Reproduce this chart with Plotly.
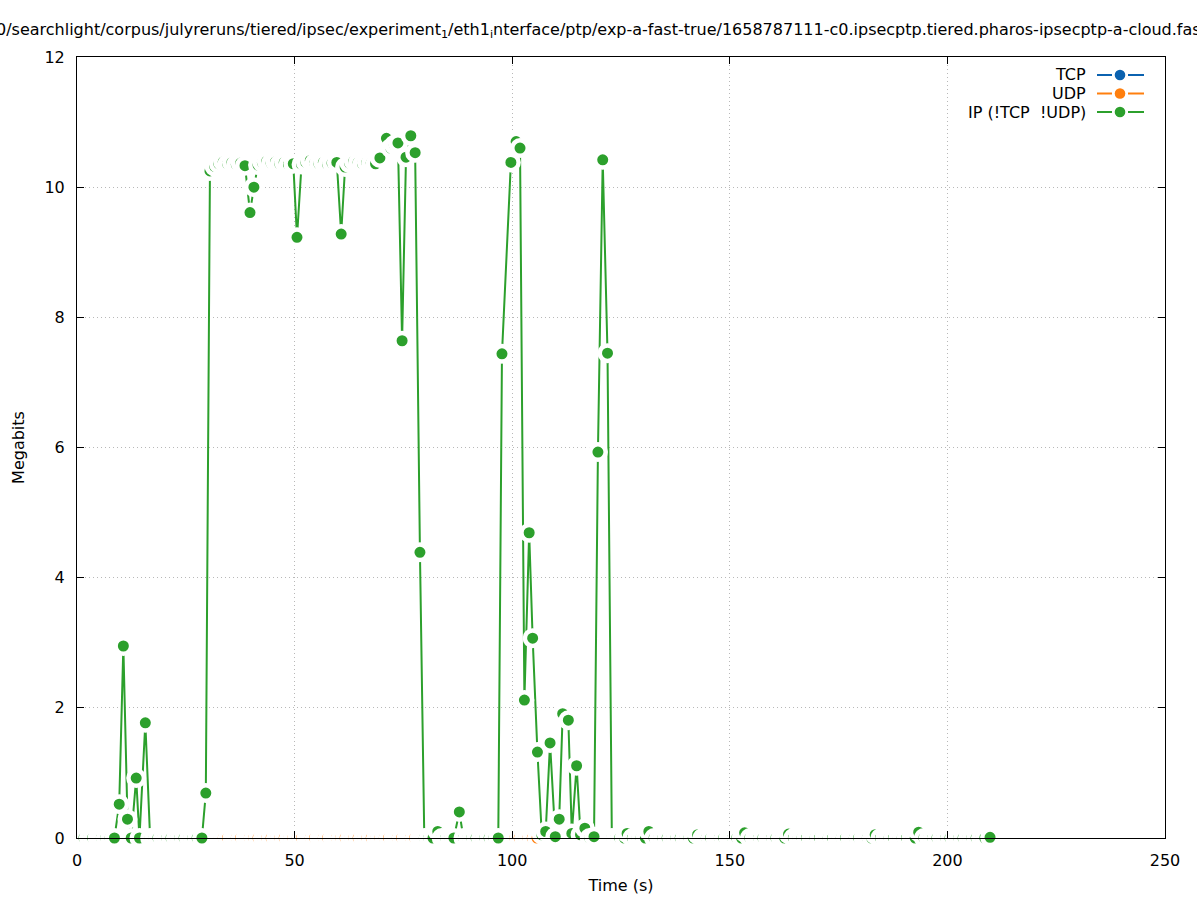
import plotly.graph_objects as go

# ---------------- data ----------------
tcp_time = []
tcp_mbits = []

udp_time = [
    32.7, 33.6, 34.6, 35.7, 36.6, 37.6, 38.7, 39.6, 40.6, 41.6,
    42.7, 43.6, 44.6, 45.7, 46.6, 47.6, 48.7, 49.6, 50.6, 51.6,
    52.7, 53.6, 54.6, 55.7, 56.6, 57.6, 58.7, 59.6, 60.6, 61.6,
    62.7, 63.6, 64.6, 65.7, 66.6, 67.6, 68.7, 69.6, 70.6, 71.6,
    72.7, 73.6, 74.6, 75.7, 76.6, 77.6, 78.7, 79.6, 80.6, 81.6,
    82.7, 83.6, 84.6, 85.7, 86.6, 87.6, 88.7, 89.6, 90.6, 91.6,
    92.7, 93.6, 94.6, 95.7, 96.6, 97.6, 98.7, 99.6, 100.6, 101.6,
    102.7, 103.6, 104.6, 105.7,
]
udp_mbits = [
    0, 0, 0, 0, 0, 0, 0, 0, 0, 0,
    0, 0, 0, 0, 0, 0, 0, 0, 0, 0,
    0, 0, 0, 0, 0, 0, 0, 0, 0, 0,
    0, 0, 0, 0, 0, 0, 0, 0, 0, 0,
    0, 0, 0, 0, 0, 0, 0, 0, 0, 0,
    0, 0, 0, 0, 0, 0, 0, 0, 0, 0,
    0, 0, 0, 0, 0, 0, 0, 0, 0, 0,
    0, 0, 0, 0,
]

ip_time = [
    0.7, 1.6, 2.7, 3.6, 4.7, 5.6, 6.6, 7.6, 8.6, 9.7,
    10.65, 11.6, 12.45, 13.6, 14.35, 15.7, 16.8, 17.7, 18.6, 19.7,
    20.6, 21.6, 22.7, 23.6, 24.6, 25.7, 26.6, 27.6, 28.7, 29.6,
    30.55, 31.6, 32.6, 33.6, 34.6, 35.6, 36.6, 37.6, 38.6, 39.75,
    40.65, 41.6, 42.6, 43.6, 44.6, 45.6, 46.6, 47.6, 48.6, 49.7,
    50.55, 51.6, 52.6, 53.6, 54.6, 55.6, 56.6, 57.6, 58.6, 59.7,
    60.7, 61.6, 62.6, 63.6, 64.6, 65.6, 66.6, 67.6, 68.6, 69.6,
    71.1, 72.1, 72.9, 73.75, 74.7, 75.6, 76.7, 77.7, 78.8, 79.8,
    80.8, 81.8, 82.9, 83.8, 84.7, 85.7, 86.6, 87.85, 88.8, 89.8,
    90.7, 91.7, 92.8, 93.7, 94.7, 95.8, 96.8, 97.65, 99.7, 100.9,
    101.8, 102.8, 103.9, 104.7, 105.8, 106.8, 107.7, 108.7, 109.9, 110.8,
    111.6, 112.9, 113.7, 114.8, 115.7, 116.7, 117.8, 118.8, 119.7, 120.8,
    121.9, 122.9, 123.8, 124.7, 125.8, 126.4, 127.6, 128.7, 129.6, 130.6,
    131.4, 132.6, 133.7, 134.6, 135.6, 136.7, 137.6, 138.6, 139.7, 140.6,
    141.6, 142.6, 143.7, 144.6, 145.6, 146.7, 147.6, 148.6, 149.7, 150.6,
    151.6, 152.7, 153.4, 154.6, 155.7, 156.6, 157.6, 158.7, 159.6, 160.6,
    161.7, 162.6, 163.5, 164.6, 165.7, 166.6, 167.6, 168.7, 169.6, 170.6,
    171.7, 172.6, 173.6, 174.7, 175.6, 176.6, 177.7, 178.6, 179.6, 180.7,
    181.6, 182.6, 183.4, 184.6, 185.7, 186.6, 187.6, 188.7, 189.6, 190.6,
    191.7, 192.6, 193.4, 194.6, 195.7, 196.6, 197.6, 198.7, 199.6, 200.6,
    201.7, 202.6, 203.6, 204.7, 205.6, 206.6, 207.7, 208.6, 209.8,
]
ip_mbits = [
    0, 0, 0, 0, 0, 0, 0, 0, 0, 0.52,
    2.95, 0.29, 0, 0.92, 0, 1.77, 0, 0, 0, 0,
    0, 0, 0, 0, 0, 0, 0, 0, 0, 0.69,
    10.25, 10.32, 10.36, 10.39, 10.36, 10.38, 10.35, 10.37, 10.33, 9.61,
    10.00, 10.34, 10.38, 10.40, 10.37, 10.39, 10.36, 10.38, 10.35, 10.36,
    9.23, 10.35, 10.38, 10.41, 10.37, 10.36, 10.38, 10.35, 10.37, 10.38,
    9.28, 10.31, 10.37, 10.40, 10.38, 10.36, 10.38, 10.37, 10.36, 10.45,
    10.75, 10.60, 10.65, 10.68, 7.64, 10.46, 10.79, 10.53, 4.39, 0,
    0, 0, 0.10, 0, 0, 0, 0, 0.40, 0, 0,
    0, 0, 0, 0, 0, 0, 0, 7.44, 10.38, 10.70,
    10.60, 2.12, 4.69, 3.07, 1.32, 0.05, 0.10, 1.46, 0.02, 0.29,
    1.91, 1.81, 0.07, 1.11, 0.05, 0.15, 0, 0.02, 5.93, 10.42,
    7.45, 0, 0, 0, 0, 0.07, 0, 0, 0, 0,
    0.10, 0, 0, 0, 0, 0, 0, 0, 0, 0,
    0, 0.05, 0, 0, 0, 0, 0, 0, 0, 0,
    0, 0, 0.08, 0, 0, 0, 0, 0, 0, 0,
    0, 0, 0.06, 0, 0, 0, 0, 0, 0, 0,
    0, 0, 0, 0, 0, 0, 0, 0, 0, 0,
    0, 0, 0.05, 0, 0, 0, 0, 0, 0, 0,
    0, 0, 0.09, 0, 0, 0, 0, 0, 0, 0,
    0, 0, 0, 0, 0, 0, 0, 0, 0.01,
]

series_names = ["TCP", "UDP", "IP (!TCP  !UDP)"]
x_ticks = [0, 50, 100, 150, 200, 250]
y_ticks = [0, 2, 4, 6, 8, 10, 12]
title_text = ("0/searchlight/corpus/julyreruns/tiered/ipsec/experiment<sub>1</sub>/eth1<sub>i</sub>nterface"
              "/ptp/exp-a-fast-true/1658787111-c0.ipsecptp.tiered.pharos-ipsecptp-a-cloud.fast")

# ---------------- style ----------------
BLUE = "#0b62b0"
ORANGE = "#ff7f0e"
GREEN = "#2ca02c"
FONT = "DejaVu Sans"
FS = 16

W, H = 1197, 900
ML, MR, MT, MB = 77, 32, 57, 62
PW, PH = W - ML - MR, H - MT - MB


def fx(px):
    return (px - ML) / PW


def fy(py):
    return (H - MB - py) / PH


fig = go.Figure()
for t, v, c in [(tcp_time, tcp_mbits, BLUE), (udp_time, udp_mbits, ORANGE), (ip_time, ip_mbits, GREEN)]:
    fig.add_trace(go.Scatter(
        x=t, y=v, mode="lines+markers",
        line=dict(color=c, width=2),
        marker=dict(size=15.5, color=c, line=dict(color="white", width=4.5)),
        cliponaxis=False, showlegend=False, hoverinfo="skip",
    ))

# manual legend (gnuplot style: text, then line-point-line sample)
shapes = []
annotations = []
rows_y = [75, 93.5, 112]
for name, c, py in zip(series_names, [BLUE, ORANGE, GREEN], rows_y):
    annotations.append(dict(
        text=name, x=fx(1088), y=fy(py), xref="paper", yref="paper",
        xanchor="right", yanchor="middle", showarrow=False,
        font=dict(family=FONT, size=FS, color="black"),
    ))
    for x0, x1 in [(1097, 1112), (1128, 1144)]:
        shapes.append(dict(type="line", xref="paper", yref="paper",
                           x0=fx(x0), x1=fx(x1), y0=fy(py), y1=fy(py),
                           line=dict(color=c, width=2)))
    r = 5.3
    shapes.append(dict(type="circle", xref="paper", yref="paper",
                       x0=fx(1120 - r), x1=fx(1120 + r), y0=fy(py + r), y1=fy(py - r),
                       fillcolor=c, line=dict(width=0)))

annotations.append(dict(
    text=title_text, x=fx(-6), y=fy(31), xref="paper", yref="paper",
    xanchor="left", yanchor="middle", showarrow=False,
    font=dict(family=FONT, size=FS, color="black"),
))

axis_common = dict(
    showgrid=True, gridcolor="#b8b8b8", gridwidth=1, griddash="1px,3px",
    showline=True, linecolor="black", linewidth=1, mirror="ticks",
    ticks="inside", ticklen=7, tickcolor="black", tickwidth=1,
    zeroline=False, automargin=False,
    tickfont=dict(family=FONT, size=FS, color="black"),
    layer="above traces",
)

fig.update_layout(
    width=W, height=H,
    margin=dict(l=ML, r=MR, t=MT, b=MB, pad=0),
    paper_bgcolor="white", plot_bgcolor="white",
    font=dict(family=FONT, size=FS, color="black"),
    xaxis=dict(range=[0, 250], tickvals=x_ticks, ticktext=[str(v) for v in x_ticks],
               title=dict(text="Time (s)", font=dict(family=FONT, size=FS), standoff=10),
               ticklabelstandoff=8, **axis_common),
    yaxis=dict(range=[0, 12], tickvals=y_ticks, ticktext=[str(v) for v in y_ticks],
               title=dict(text="Megabits", font=dict(family=FONT, size=FS), standoff=15),
               ticklabelstandoff=8, **axis_common),
    shapes=shapes, annotations=annotations,
)

fig.write_html("out.html", config={"displayModeBar": False},
               post_script="document.body.style.margin='0';")
